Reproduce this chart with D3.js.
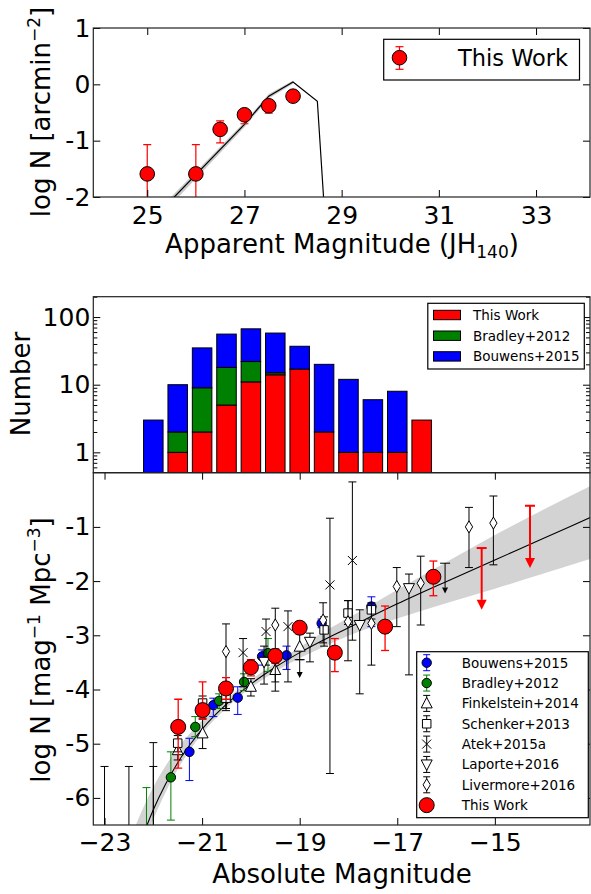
<!DOCTYPE html>
<html lang="en">
<head>
<meta charset="UTF-8">
<title>Number counts and UV luminosity function</title>
<script src="https://d3js.org/d3.v7.min.js"></script>
<style>
  body { margin: 0; background: #fff; }
  svg text { font-family: "DejaVu Sans", sans-serif; fill: #000; }
</style>
</head>
<body>
<div id="chart"></div>
<script>
// ---- top panel: surface density vs apparent magnitude
const appMag = [25, 26, 26.5, 27, 27.5, 28];
const logCounts = [-1.59, -1.59, -0.80, -0.54, -0.38, -0.21];
const countsErrHi = [-1.07, -1.07, -0.65, -0.47, -0.30, -0.16];
const countsErrLo = [-2.4, -2.4, -1.04, -0.70, -0.51, -0.26];
const modelMag = [25.5, 27.0, 27.5, 28.0, 28.5, 28.65];
const modelLogN = [-2.05, -0.71, -0.21, 0.04, -0.30, -2.30];
const modelBandMag = [25.5, 27.0, 27.5, 28.0];
const modelBandHi = [-1.99, -0.67, -0.17, 0.07];
const modelBandLo = [-2.13, -0.76, -0.25, 0.01];
const appTicks = [25, 27, 29, 31, 33];
const logNTicks = [-2, -1, 0, 1];

// ---- middle panel: stacked histogram of sources per bin
const histBins = [-22.0, -21.5, -21.0, -20.5, -20.0, -19.5, -19.0, -18.5, -18.0, -17.5, -17.0, -16.5];
const histThisWork = [0, 1, 2, 5, 11, 14, 17, 2, 1, 1, 1, 3];
const histBradley = [0, 1, 7, 13, 11, 1, 0, 0, 0, 0, 0, 0];
const histBouwens = [3, 8, 26, 38, 45, 43, 20, 18, 11, 5, 7, 0];
const histMajor = [1, 10, 100];
const histMinor = [0.6, 0.7, 0.8, 0.9, 2, 3, 4, 5, 6, 7, 8, 9, 20, 30, 40, 50, 60, 70, 80, 90, 200];

// ---- bottom panel: luminosity function, rows are [M, logPhi, errTop, errBottom]
const bouwens2015 = [
  [-21.26, -5.15, -4.90, -5.68], [-20.77, -4.29, -4.16, -4.50], [-20.27, -4.15, -3.95, -4.46],
  [-19.77, -3.39, -3.27, -3.55], [-19.27, -3.37, -3.20, -3.63], [-18.55, -2.78, -2.70, -2.86],
  [-17.53, -2.47, -2.29, -2.84]
];
const bradley2012 = [
  [-22.14, -6.90, -5.81, -7.50], [-21.64, -5.62, -5.15, -6.41], [-21.14, -4.69, -4.50, -4.87],
  [-20.65, -4.21, -4.08, -4.35], [-20.14, -3.86, -3.71, -4.02], [-19.65, -3.33, -3.06, -3.67]
];
const finkelstein2014 = [
  [-23.00, -7.00, -5.42, -8.00], [-22.50, -7.00, -5.42, -8.00], [-22.00, -7.00, -5.42, -8.00],
  [-21.50, -5.12, -4.95, -5.30], [-20.99, -4.81, -4.53, -5.09], [-20.51, -4.15, -4.00, -4.35],
  [-20.00, -3.95, -3.80, -4.12], [-19.50, -3.64, -3.30, -4.03], [-19.00, -3.21, -2.96, -3.45]
];
const schenker2013 = [
  [-22.00, -7.00, -4.98, -8.00], [-21.50, -4.99, -4.85, -5.15], [-20.99, -4.25, -4.12, -4.40],
  [-20.51, -4.16, -4.00, -4.35], [-18.50, -2.90, -2.66, -3.20], [-18.01, -2.59, -2.36, -2.80],
  [-17.53, -2.53, -2.40, -2.70]
];
const atek2015 = [
  [-20.16, -3.32, -3.06, -3.95], [-19.69, -2.93, -2.70, -3.55], [-19.24, -2.84, -2.55, -3.86],
  [-18.38, -2.07, -0.84, -5.55], [-17.92, -1.62, -0.17, -3.09]
];
const laporte2016 = [
  [-19.73, -3.49, -3.20, -3.90], [-18.79, -3.12, -2.96, -3.49], [-17.77, -2.81, -2.53, -4.08],
  [-16.76, -2.13, -1.87, -3.73]
];
const livermore2016 = [
  [-20.51, -3.30, -2.79, -4.39], [-19.50, -2.81, -2.50, -3.86], [-18.52, -2.72, -2.40, -3.14],
  [-18.01, -2.75, -2.36, -3.47], [-17.53, -2.78, -2.45, -3.55], [-17.01, -2.10, -1.75, -2.84],
  [-16.52, -2.04, -1.54, -2.81], [-15.53, -1.00, -0.64, -1.75], [-15.03, -0.93, -0.43, -1.70]
];
const thisWorkLF = [
  [-21.49, -4.69, -4.18, -5.45], [-20.99, -4.38, -3.86, -4.55], [-20.51, -3.98, -3.78, -4.18],
  [-20.00, -3.59, -3.45, -3.75], [-19.50, -3.38, -3.25, -3.52], [-19.00, -2.86, -2.75, -2.98],
  [-18.28, -3.32, -3.06, -3.67], [-17.25, -2.84, -2.46, -3.28], [-16.26, -1.92, -1.63, -2.27]
];
// upper limits: [M, top of bar, arrow tip]
const thisWorkLimits = [[-15.27, -1.39, -2.53], [-14.28, -0.61, -1.76]];
const otherLimits = [[-19.00, -3.45, -3.79], [-16.02, -1.67, -2.23]];
// best fit and its 1-sigma band
const fitM = [-22.4, -22.2, -22.0, -21.75, -21.5, -21.25, -21.0, -20.5, -20.0, -19.5, -19.0, -18.5, -18.0, -17.0, -16.0, -15.0, -14.0, -13.0];
const fitLogPhi = [-7.19, -6.67, -6.22, -5.75, -5.35, -5.02, -4.73, -4.27, -3.90, -3.59, -3.32, -3.08, -2.86, -2.42, -2.01, -1.61, -1.21, -0.81];
const fitHi = [-6.59, -6.17, -5.80, -5.41, -5.08, -4.81, -4.57, -4.17, -3.82, -3.51, -3.22, -2.93, -2.68, -2.16, -1.65, -1.15, -0.68, -0.23];
const fitLo = [-7.44, -6.89, -6.40, -5.90, -5.47, -5.12, -4.81, -4.34, -3.97, -3.67, -3.42, -3.21, -3.01, -2.69, -2.41, -2.14, -1.86, -1.58];
const absTicks = [-23, -21, -19, -17, -15];
const lfTicks = [-6, -5, -4, -3, -2, -1];

const svg = d3.select("#chart").append("svg")
  .attr("width", 591).attr("height", 894);
const defs = svg.append("defs");

// scales
const xA = d3.scaleLinear().domain([23.89, 34.11]).range([93.3, 590]);
const yA = d3.scaleLinear().domain([-2, 1]).range([197, 28]);
const xL = d3.scaleLinear().domain([-23.23, -13.05]).range([93.3, 590]);
const yH = d3.scaleLog().domain([0.5, 200]).range([472.7, 296.7]);
const yL = d3.scaleLinear().domain([-6.5, 0]).range([825, 472.7]);

function clipFor(id, x, y) {
  defs.append("clipPath").attr("id", id).append("rect")
    .attr("x", x.range()[0]).attr("y", d3.min(y.range()))
    .attr("width", x.range()[1] - x.range()[0])
    .attr("height", Math.abs(y.range()[0] - y.range()[1]));
  return svg.append("g").attr("clip-path", `url(#${id})`);
}

function axes(x, y, opts) {
  const yb = d3.max(y.range()), yt = d3.min(y.range());
  const [xl, xr] = x.range();
  const set = g => g.attr("font-size", 25).attr("font-family", null).call(s => s.select(".domain").remove());
  if (opts.bottom) svg.append("g").attr("transform", `translate(0,${yb})`)
    .call(d3.axisBottom(x).tickValues(opts.xTicks).tickSize(-7).tickSizeOuter(0).tickPadding(opts.xPad || 9)
      .tickFormat(opts.xFmt || "")).call(set);
  if (opts.top) svg.append("g").attr("transform", `translate(0,${yt})`)
    .call(d3.axisTop(x).tickValues(opts.xTicks).tickSize(-7).tickSizeOuter(0).tickFormat("")).call(set);
  svg.append("g").attr("transform", `translate(${xl},0)`)
    .call(d3.axisLeft(y).tickValues(opts.yTicks).tickSize(-7).tickSizeOuter(0).tickPadding(3)
      .tickFormat(opts.yFmt)).call(set);
  svg.append("g").attr("transform", `translate(${xr},0)`)
    .call(d3.axisRight(y).tickValues(opts.yTicks).tickSize(-7).tickSizeOuter(0).tickFormat("")).call(set);
  if (opts.yMinor) {
    svg.append("g").attr("transform", `translate(${xl},0)`)
      .call(d3.axisLeft(y).tickValues(opts.yMinor).tickSize(-4).tickSizeOuter(0).tickFormat("")).call(set);
    svg.append("g").attr("transform", `translate(${xr},0)`)
      .call(d3.axisRight(y).tickValues(opts.yMinor).tickSize(-4).tickSizeOuter(0).tickFormat("")).call(set);
  }
  svg.append("rect").attr("x", xl).attr("y", yt).attr("width", xr - xl).attr("height", yb - yt)
    .attr("fill", "none").attr("stroke", "#222").attr("stroke-width", 1.2);
}

function errBar(g, x, y1, y2, color, cap, w) {
  g.append("line").attr("x1", x).attr("x2", x).attr("y1", y1).attr("y2", y2)
    .attr("stroke", color).attr("stroke-width", w);
  [y1, y2].forEach(yy => g.append("line").attr("x1", x - cap / 2).attr("x2", x + cap / 2)
    .attr("y1", yy).attr("y2", yy).attr("stroke", color).attr("stroke-width", w));
}

function marker(g, shape, x, y, fill, size) {
  const t = `translate(${x},${y})`;
  if (shape === "circle") {
    g.append("circle").attr("cx", x).attr("cy", y).attr("r", size)
      .attr("fill", fill).attr("stroke", "#000").attr("stroke-width", 1);
    return;
  }
  const s = size;
  const paths = {
    triUp: `M0,${-s * 0.6}L${s * 0.55},${s * 0.45}L${-s * 0.55},${s * 0.45}Z`,
    triDown: `M0,${s * 0.6}L${s * 0.55},${-s * 0.45}L${-s * 0.55},${-s * 0.45}Z`,
    square: `M${-s / 2},${-s / 2}h${s}v${s}h${-s}Z`,
    cross: `M${-s / 2},${-s / 2}L${s / 2},${s / 2}M${-s / 2},${s / 2}L${s / 2},${-s / 2}`,
    thinDiamond: `M0,${-s * 0.55}L${s * 0.33},0L0,${s * 0.55}L${-s * 0.33},0Z`
  };
  g.append("path").attr("d", paths[shape]).attr("transform", t)
    .attr("fill", shape === "cross" ? "none" : fill).attr("stroke", "#000").attr("stroke-width", 1);
}

// ================= top panel =================
const gA = clipFor("clipA", xA, yA);
gA.append("path")
  .attr("d", d3.area().x(i => xA(modelBandMag[i])).y0(i => yA(modelBandLo[i])).y1(i => yA(modelBandHi[i]))(d3.range(modelBandMag.length)))
  .attr("fill", "#c8c8c8");
gA.append("path")
  .attr("d", d3.line().x(i => xA(modelMag[i])).y(i => yA(modelLogN[i]))(d3.range(modelMag.length)))
  .attr("fill", "none").attr("stroke", "#000").attr("stroke-width", 1.2);
appMag.forEach((m, i) => errBar(gA, xA(m), yA(countsErrHi[i]), yA(countsErrLo[i]), "#ff0000", 8, 1.2));
appMag.forEach((m, i) => marker(gA, "circle", xA(m), yA(logCounts[i]), "#ff0000", 7.3));

axes(xA, yA, { bottom: true, top: true, xTicks: appTicks, yTicks: logNTicks, xFmt: d => String(d), yFmt: d => String(d) });

// legend
svg.append("rect").attr("x", 383.7).attr("y", 39.3).attr("width", 195.8).attr("height", 40.7)
  .attr("fill", "#fff").attr("stroke", "#000").attr("stroke-width", 1.2);
errBar(svg, 399.5, 46.7, 69.3, "#ff0000", 8, 1.2);
marker(svg, "circle", 399.5, 57.7, "#ff0000", 7.3);
svg.append("text").attr("x", 458).attr("y", 65.5).attr("font-size", 22.5).text("This Work");

svg.append("text").attr("text-anchor", "middle").attr("x", 342).attr("y", 253).attr("font-size", 26)
  .call(t => {
    t.append("tspan").text("Apparent Magnitude (JH");
    t.append("tspan").attr("font-size", 17).attr("dy", 5).text("140");
    t.append("tspan").attr("dy", -5).text(")");
  });
svg.append("text").attr("text-anchor", "middle").attr("font-size", 26)
  .attr("transform", "translate(50,112) rotate(-90)")
  .call(t => {
    t.append("tspan").text("log N [arcmin");
    t.append("tspan").attr("font-size", 17).attr("dy", -10).text("\u22122");
    t.append("tspan").attr("dy", 10).text("]");
  });

// ================= histogram =================
const gH = clipFor("clipH", xL, yH);
const histRows = histBins.map((m, i) => ({ m, thisWork: histThisWork[i], bradley: histBradley[i], bouwens: histBouwens[i] }));
const histKeys = ["thisWork", "bradley", "bouwens"];
const histColors = { thisWork: "#ff0000", bradley: "#008000", bouwens: "#0000ff" };
const stacked = d3.stack().keys(histKeys)(histRows);
stacked.forEach(layer => {
  layer.forEach(d => {
    if (d[1] <= d[0]) return;
    const lo = Math.max(d[0], 0.4);
    gH.append("rect")
      .attr("x", xL(d.data.m - 0.2)).attr("width", xL(d.data.m + 0.2) - xL(d.data.m - 0.2))
      .attr("y", yH(d[1])).attr("height", yH(lo) - yH(d[1]))
      .attr("fill", histColors[layer.key]).attr("stroke", "#000").attr("stroke-width", 1);
  });
});
axes(xL, yH, { bottom: false, top: false, xTicks: absTicks, yTicks: histMajor, yMinor: histMinor, yFmt: d => String(d) });

const histLegend = [["This Work", "#ff0000"], ["Bradley+2012", "#008000"], ["Bouwens+2015", "#0000ff"]];
svg.append("rect").attr("x", 427.8).attr("y", 303.3).attr("width", 156.5).attr("height", 65.7)
  .attr("fill", "#fff").attr("stroke", "#000").attr("stroke-width", 1.2);
histLegend.forEach(([label, c], i) => {
  const cy = 315 + i * 20.7;
  svg.append("rect").attr("x", 433.5).attr("y", cy - 4.7).attr("width", 27).attr("height", 9.4)
    .attr("fill", c).attr("stroke", "#000").attr("stroke-width", 1);
  svg.append("text").attr("x", 473).attr("y", cy + 5).attr("font-size", 13.5).text(label);
});
svg.append("text").attr("text-anchor", "middle").attr("font-size", 26)
  .attr("transform", "translate(30,384) rotate(-90)").text("Number");

// ================= luminosity function =================
const gL = clipFor("clipL", xL, yL);
gL.append("path")
  .attr("d", d3.area().curve(d3.curveMonotoneX).x(i => xL(fitM[i])).y0(i => yL(fitLo[i])).y1(i => yL(fitHi[i]))(d3.range(fitM.length)))
  .attr("fill", "#d3d3d3");
gL.append("path")
  .attr("d", d3.line().curve(d3.curveMonotoneX).x(i => xL(fitM[i])).y(i => yL(fitLogPhi[i]))(d3.range(fitM.length)))
  .attr("fill", "none").attr("stroke", "#000").attr("stroke-width", 1.1);

const lfSets = [
  { label: "Bouwens+2015", data: bouwens2015, shape: "circle", fill: "#0000ff", err: "#0000ff", size: 4.7 },
  { label: "Bradley+2012", data: bradley2012, shape: "circle", fill: "#008000", err: "#008000", size: 4.7 },
  { label: "Finkelstein+2014", data: finkelstein2014, shape: "triUp", fill: "#fff", err: "#000", size: 10 },
  { label: "Schenker+2013", data: schenker2013, shape: "square", fill: "#fff", err: "#000", size: 8.5 },
  { label: "Atek+2015a", data: atek2015, shape: "cross", fill: "none", err: "#000", size: 9 },
  { label: "Laporte+2016", data: laporte2016, shape: "triDown", fill: "#fff", err: "#000", size: 10 },
  { label: "Livermore+2016", data: livermore2016, shape: "thinDiamond", fill: "#fff", err: "#000", size: 11 },
  { label: "This Work", data: thisWorkLF, shape: "circle", fill: "#ff0000", err: "#ff0000", size: 7.5 }
];

lfSets.forEach(set => {
  set.data.forEach(([m, v, hi, lo]) => errBar(gL, xL(m), yL(hi), yL(lo), set.err, 8, set.err === "#ff0000" ? 1.3 : 1));
  set.data.forEach(([m, v]) => marker(gL, set.shape, xL(m), yL(v), set.fill, set.size));
});

function upperLimit(g, m, top, tip, color, w, head) {
  const x = xL(m), y1 = yL(top), y2 = yL(tip);
  g.append("line").attr("x1", x).attr("x2", x).attr("y1", y1).attr("y2", y2 - head)
    .attr("stroke", color).attr("stroke-width", w);
  g.append("line").attr("x1", x - 5).attr("x2", x + 5).attr("y1", y1).attr("y2", y1)
    .attr("stroke", color).attr("stroke-width", w);
  g.append("path").attr("d", `M${x - head / 2},${y2 - head}L${x + head / 2},${y2 - head}L${x},${y2}Z`)
    .attr("fill", color);
}
thisWorkLimits.forEach(([m, t, b]) => upperLimit(gL, m, t, b, "#ff0000", 2, 10));
otherLimits.forEach(([m, t, b]) => upperLimit(gL, m, t, b, "#000", 1, 6));

axes(xL, yL, { bottom: true, top: true, xTicks: absTicks, yTicks: lfTicks, xPad: 8,
  xFmt: d => "\u2212" + Math.abs(d), yFmt: d => String(d) });

// legend
svg.append("rect").attr("x", 416.7).attr("y", 651.7).attr("width", 171.6).attr("height", 166)
  .attr("fill", "#fff").attr("stroke", "#000").attr("stroke-width", 1.2);
lfSets.forEach((set, i) => {
  const cy = 662.7 + i * 20.35;
  if (set.label !== "This Work") errBar(svg, 426.7, cy - 8, cy + 8, set.err, 7, 1);
  marker(svg, set.shape, 426.7, cy, set.fill, set.size);
  svg.append("text").attr("x", 461.7).attr("y", cy + 5).attr("font-size", 13.5).text(set.label);
});

svg.append("text").attr("text-anchor", "middle").attr("x", 342).attr("y", 883).attr("font-size", 26)
  .text("Absolute Magnitude");
svg.append("text").attr("text-anchor", "middle").attr("font-size", 26)
  .attr("transform", "translate(50,650) rotate(-90)")
  .call(t => {
    t.append("tspan").text("log N [mag");
    t.append("tspan").attr("font-size", 17).attr("dy", -10).text("\u22121");
    t.append("tspan").attr("dy", 10).text("  Mpc");
    t.append("tspan").attr("font-size", 17).attr("dy", -10).text("\u22123");
    t.append("tspan").attr("dy", 10).text("]");
  });
</script>
</body>
</html>
